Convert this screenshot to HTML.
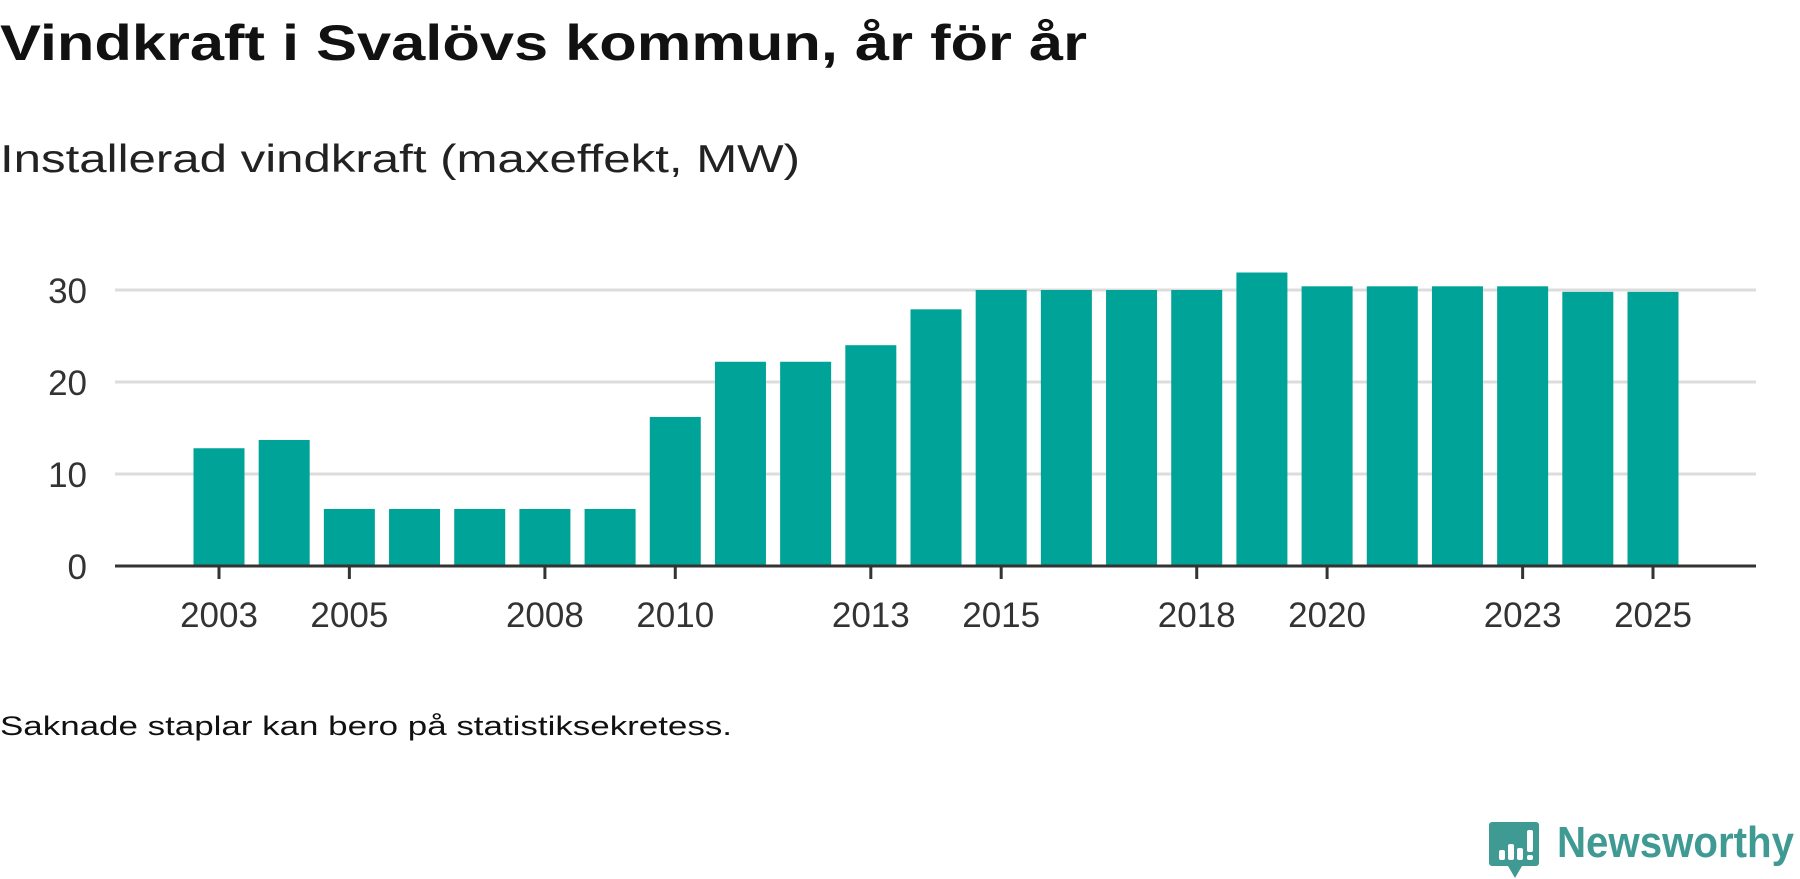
<!DOCTYPE html>
<html><head><meta charset="utf-8"><style>
html,body{margin:0;padding:0;background:#fff;width:1800px;height:879px;overflow:hidden}
svg{display:block;font-family:"Liberation Sans",sans-serif}
</style></head><body>
<svg id="chart" width="1800" height="879" viewBox="0 0 1800 879">
<text x="0" y="60" font-size="50" font-weight="bold" fill="#111" textLength="1087" lengthAdjust="spacingAndGlyphs">Vindkraft i Svalövs kommun, år för år</text>
<text x="0" y="172" font-size="39" fill="#222" textLength="800" lengthAdjust="spacingAndGlyphs">Installerad vindkraft (maxeffekt, MW)</text>
<g id="grid"></g>
<g id="bars"></g>
<g id="axis"></g>
<text x="0" y="735" font-size="27" fill="#111" textLength="732" lengthAdjust="spacingAndGlyphs">Saknade staplar kan bero på statistiksekretess.</text>
<g>
<path d="M1492 822 h44 a3 3 0 0 1 3 3 v38 a3 3 0 0 1 -3 3 h-14 l-7 12 l-7 -12 h-16 a3 3 0 0 1 -3 -3 v-38 a3 3 0 0 1 3 -3z" fill="#3f9a94"/>
<rect x="1499" y="850" width="6" height="10" rx="2" fill="#fff"/>
<rect x="1508" y="844" width="6" height="16" rx="2" fill="#fff"/>
<rect x="1517" y="848" width="6" height="12" rx="2" fill="#fff"/>
<rect x="1527" y="830" width="6" height="22" rx="2" fill="#fff"/>
<rect x="1527" y="855" width="6" height="5" rx="2" fill="#fff"/>
<text x="1557" y="857" font-size="44" font-weight="bold" fill="#3f9a94" textLength="237" lengthAdjust="spacingAndGlyphs">Newsworthy</text>
</g>
</svg>
<script>
const years = [2003,2004,2005,2006,2007,2008,2009,2010,2011,2012,2013,2014,2015,2016,2017,2018,2019,2020,2021,2022,2023,2024,2025];
const values = [12.8,13.7,6.2,6.2,6.2,6.2,6.2,16.2,22.2,22.2,24.0,27.9,30.0,30.0,30.0,30.0,31.9,30.4,30.4,30.4,30.4,29.8,29.8];
const yTicks = [0,10,20,30];
const xTickYears = [2003,2005,2008,2010,2013,2015,2018,2020,2023,2025];

const NS='http://www.w3.org/2000/svg';
const x0=115, x1=1756, y0=566, pxPerUnit=9.2;
const firstCenter=219, step=(1653-219)/22, bw=51;
function xScale(yr){return firstCenter+(yr-years[0])*step;}
function yScale(v){return y0-v*pxPerUnit;}
function mk(tag,attrs,parent){const e=document.createElementNS(NS,tag);for(const k in attrs)e.setAttribute(k,attrs[k]);parent.appendChild(e);return e;}

const grid=document.getElementById('grid');
yTicks.forEach(t=>{
  if(t>0){
    const l=mk('line',{x1:x0,x2:x1,y1:yScale(t),y2:yScale(t),stroke:'#dcdcdc','stroke-width':3},grid);
    
    
  }
  const tx=mk('text',{x:87,y:yScale(t)+13,'text-anchor':'end','font-size':35,fill:'#333'},grid);
  tx.textContent=t;
  
  
});
const bars=document.getElementById('bars');
years.forEach((yr,i)=>{
  const r=mk('rect',{x:xScale(yr)-bw/2,y:yScale(values[i]),width:bw,height:values[i]*pxPerUnit,fill:'#00a398'},bars);
  
  
});
const axis=document.getElementById('axis');
const al=mk('line',{x1:x0,x2:x1,y1:y0,y2:y0,stroke:'#333','stroke-width':3},axis);


xTickYears.forEach(yr=>{
  const tk=mk('line',{x1:xScale(yr),x2:xScale(yr),y1:y0,y2:y0+13,stroke:'#333','stroke-width':3},axis);
  
  
  const tx=mk('text',{x:xScale(yr),y:627,'text-anchor':'middle','font-size':35,fill:'#333'},axis);
  tx.textContent=yr;
  
  
});
</script>
</body></html>
